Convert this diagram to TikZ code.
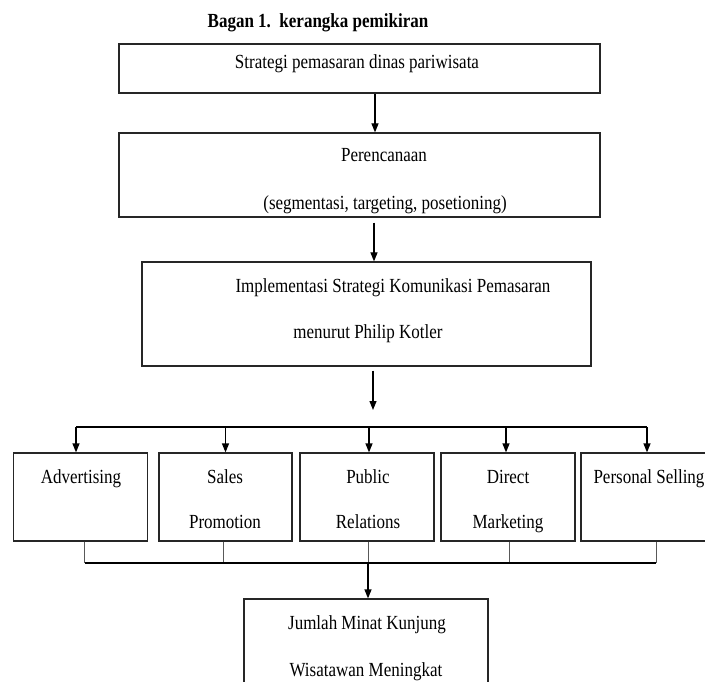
\documentclass[tikz,border=0pt]{standalone}
\usepackage{fontspec}
\setmainfont{Liberation Serif}[FakeStretch=0.85]
\usetikzlibrary{arrows.meta, positioning, calc}

\tikzset{
  kotak/.style={draw=black!85, line width=1.2pt, inner sep=0pt},
  teks/.style={font=\fontsize{20}{24}\selectfont, inner sep=0pt, text height=14pt, text depth=4pt},
  panah/.style={-{Triangle[length=9pt,width=7pt]}, line width=1.2pt},
  garis/.style={line width=2pt},
  tipis/.style={line width=1pt, black!65}
}

\begin{document}
\begin{tikzpicture}[x=1pt, y=-1pt]
  \path[use as bounding box, clip] (0,0) rectangle (705,682);
  % judul
  \node[teks, font=\fontsize{20}{24}\selectfont\bfseries] (judul) at (318,23) {Bagan 1.\ \ kerangka pemikiran};
  % kotak atas
  \node[kotak, line width=1.7pt, minimum width=481pt, minimum height=49pt] (strat) at (359.5,68.5) {};
  \node[teks] (strat1) at (357,64) {Strategi pemasaran dinas pariwisata};
  \node[kotak, minimum width=481pt, minimum height=84pt] (renc) at (359.5,175) {};
  \node[teks] (renc1) at (384,157) {Perencanaan};
  \node[teks] (renc2) at (385,205) {(segmentasi, targeting, posetioning)};
  \node[kotak, minimum width=449pt, minimum height=104pt] (impl) at (366.5,314) {};
  \node[teks] (impl1) at (393,287) {Implementasi Strategi Komunikasi Pemasaran};
  \node[teks] (impl2) at (368,333) {menurut Philip Kotler};
  % lima unsur
  \node[kotak, minimum width=134pt, minimum height=88pt] (adv) at (80.5,497) {};
  \node[kotak, minimum width=133pt, minimum height=88pt] (sp) at (225.5,497) {};
  \node[kotak, minimum width=134pt, minimum height=88pt] (pr) at (367,497) {};
  \node[kotak, minimum width=134pt, minimum height=88pt] (dm) at (508,497) {};
  \node[kotak, minimum width=134pt, minimum height=88pt] (ps) at (648,497) {};
  \node[teks] (adv1) at (81,478) {Advertising};
  \node[teks] (sp1) at (225,478) {Sales};
  \node[teks] (sp2) at (225,523) {Promotion};
  \node[teks] (pr1) at (368,478) {Public};
  \node[teks] (pr2) at (368,523) {Relations};
  \node[teks] (dm1) at (508,478) {Direct};
  \node[teks] (dm2) at (508,523) {Marketing};
  \node[teks] (ps1) at (649,478) {Personal Selling};
  % hasil
  \node[kotak, minimum width=244pt, minimum height=97pt] (jml) at (366,647.5) {};
  \node[teks] (jml1) at (367,624) {Jumlah Minat Kunjung};
  \node[teks] (jml2) at (366,671) {Wisatawan Meningkat};
  % panah
  \coordinate (ax1) at (375,0);
  \coordinate (ax2) at (374,0);
  \coordinate (ujung) at (373,410);
  \coordinate (bar) at (0,427);
  \coordinate (bawah) at (0,563);
  \draw[panah] (strat.south -| ax1) -- (renc.north -| ax1);
  \draw[panah, shorten <=5pt] (renc.south -| ax2) -- (impl.north -| ax2);
  \draw[panah, shorten <=4pt] (impl.south -| ujung) -- (ujung);
  \draw[garis] ([xshift=-4.5pt]adv.north |- bar) -- ([xshift=-1pt]ps.north |- bar);
  \foreach \n/\dx in {adv/-4.5, sp/0, pr/2, dm/-2, ps/-1}
    \draw[panah] ([xshift=\dx pt]\n.north |- bar) -- ([xshift=\dx pt]\n.north);
  % garis bawah
  \foreach \n/\dx in {adv/4, sp/-2.5, pr/1, dm/1, ps/8}
    \draw[tipis] ([xshift=\dx pt]\n.south) -- ([xshift=\dx pt]\n.south |- bawah);
  \draw[garis] ([xshift=4pt]adv.south |- bawah) -- ([xshift=8pt]ps.south |- bawah);
  \draw[panah] ([xshift=2pt]jml.north |- bawah) -- ([xshift=2pt]jml.north);
\end{tikzpicture}
\end{document}
